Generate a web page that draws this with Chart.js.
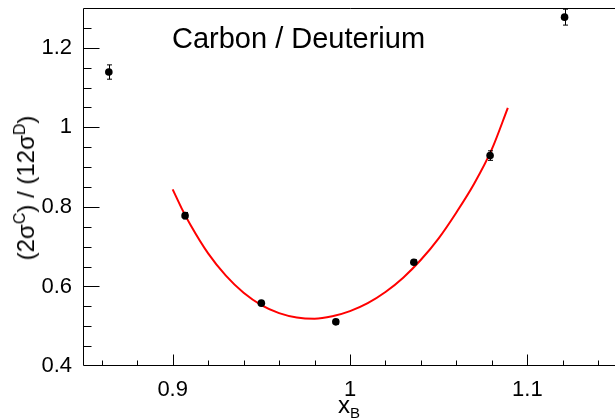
<!DOCTYPE html>
<html>
<head>
<meta charset="utf-8">
<script src="https://cdn.jsdelivr.net/npm/chart.js@4"></script>
<style>
  html, body { margin: 0; padding: 0; background: #fff; overflow: hidden; }
  #wrap { position: relative; width: 620px; height: 418px; font-family: "Liberation Sans", Arial, sans-serif; color: #000; }
  #c { position: absolute; left: 0; top: 0; }
  .txt { position: absolute; white-space: nowrap; line-height: 1; }
  #plotLabel { left: 172px; top: 24px; font-size: 29px; }
  #xTitle { left: 338px; top: 393px; font-size: 24px; }
  #xTitle sub { font-size: 15px; vertical-align: -5px; line-height: 0; }
  #yTitle { left: 26px; top: 188px; font-size: 24px; transform: translate(-50%, -50%) rotate(-90deg); }
  #yTitle sup { font-size: 16px; vertical-align: 9px; line-height: 0; }
</style>
</head>
<body>
<div id="wrap">
  <canvas id="c" width="620" height="418"></canvas>
  <div class="txt" id="plotLabel">Carbon / Deuterium</div>
  <div class="txt" id="xTitle">x<sub>B</sub></div>
  <div class="txt" id="yTitle">(2σ<sup>C</sup>) / (12σ<sup>D</sup>)</div>
</div>
<script>
/* --- DATA --- */
const xB = [0.864, 0.907, 0.950, 0.992, 1.036, 1.079, 1.121];
const ratio = [1.139, 0.778, 0.558, 0.511, 0.661, 0.929, 1.277];
const ratioErr = [0.018, 0.008, 0.006, 0.006, 0.006, 0.012, 0.020];

// fit curve
const fitX = [0.900, 0.905, 0.910, 0.920, 0.930, 0.940, 0.950, 0.960, 0.970, 0.980, 0.990,
              1.000, 1.010, 1.020, 1.030, 1.040, 1.050, 1.060, 1.070, 1.080, 1.089];
const fitY = [0.844, 0.797, 0.755, 0.683, 0.627, 0.584, 0.553, 0.533, 0.522, 0.519, 0.525,
              0.538, 0.558, 0.586, 0.622, 0.667, 0.721, 0.786, 0.858, 0.945, 1.049];

const xTicks = [0.9, 1.0, 1.1];
const xTickLabels = ['0.9', '1', '1.1'];
const yTicks = [0.4, 0.6, 0.8, 1.0, 1.2];
const yTickLabels = ['0.4', '0.6', '0.8', '1', '1.2'];
const xMinorStep = 0.02;
const yMinorStep = 0.05;

/* --- PLUGINS --- */
// ROOT style frame with ticks pointing inwards
const framePlugin = {
    id: 'frame',
    afterDatasetsDraw(chart) {
        const ctx = chart.ctx;
        const area = chart.chartArea;
        const xs = chart.scales.x;
        const ys = chart.scales.y;
        const left = Math.round(area.left) - 0.5;
        const bottom = Math.round(area.bottom) - 0.5;
        const top = Math.round(area.top) + 0.5;

        ctx.save();
        ctx.strokeStyle = '#000';
        ctx.lineWidth = 1;
        ctx.beginPath();
        ctx.moveTo(left, top);
        ctx.lineTo(area.right + 2, top);
        ctx.moveTo(left, top);
        ctx.lineTo(left, bottom);
        ctx.lineTo(area.right + 2, bottom);

        // x ticks
        for (let v = 0.86; v < xs.max; v += xMinorStep) {
            const px = Math.round(xs.getPixelForValue(v)) + 0.5;
            const major = xTicks.some(t => Math.abs(t - v) < 1e-6);
            ctx.moveTo(px, bottom);
            ctx.lineTo(px, bottom - (major ? 11 : 5));
        }
        // y ticks
        for (let v = 0.45; v < ys.max; v += yMinorStep) {
            const py = Math.round(ys.getPixelForValue(v)) + 0.5;
            const major = yTicks.some(t => Math.abs(t - v) < 1e-6);
            ctx.moveTo(left, py);
            ctx.lineTo(left + (major ? 16 : 8), py);
        }
        ctx.stroke();
        ctx.restore();
    }
};

const errorBarPlugin = {
    id: 'errorBars',
    afterDatasetsDraw(chart) {
        const ctx = chart.ctx;
        const xs = chart.scales.x;
        const ys = chart.scales.y;
        ctx.save();
        ctx.strokeStyle = '#000';
        ctx.lineWidth = 1;
        ctx.beginPath();
        xB.forEach((x, i) => {
            const px = Math.round(xs.getPixelForValue(x)) + 0.5;
            const yTop = ys.getPixelForValue(ratio[i] + ratioErr[i]);
            const yBot = ys.getPixelForValue(ratio[i] - ratioErr[i]);
            ctx.moveTo(px, yTop);
            ctx.lineTo(px, yBot);
            ctx.moveTo(px - 2.5, yTop);
            ctx.lineTo(px + 2.5, yTop);
            ctx.moveTo(px - 2.5, yBot);
            ctx.lineTo(px + 2.5, yBot);
        });
        ctx.stroke();
        ctx.restore();
    }
};

/* --- CHART --- */
const tickFont = { family: '"Liberation Sans", Arial, sans-serif', size: 22 };

new Chart(document.getElementById('c'), {
    type: 'scatter',
    data: {
        datasets: [{
            label: 'fit',
            data: fitX.map((x, i) => ({ x: x, y: fitY[i] })),
            showLine: true,
            borderColor: '#ff0000',
            borderWidth: 2,
            pointRadius: 0,
            cubicInterpolationMode: 'monotone',
            order: 2
        }, {
            label: 'ratio',
            data: xB.map((x, i) => ({ x: x, y: ratio[i] })),
            backgroundColor: '#000',
            borderColor: '#000',
            borderWidth: 0,
            pointRadius: 3.8,
            order: 1
        }]
    },
    options: {
        responsive: false,
        animation: false,
        devicePixelRatio: 1,
        layout: { padding: { top: 8, right: 4, left: 0, bottom: 0 } },
        plugins: {
            legend: { display: false },
            tooltip: { enabled: false },
            title: { display: false }
        },
        scales: {
            x: {
                type: 'linear',
                min: 0.85,
                max: 1.15,
                grid: { display: false },
                border: { display: false },
                afterBuildTicks: (s) => { s.ticks = xTicks.map(v => ({ value: v })); },
                afterFit: (s) => { s.height = 52; s.paddingLeft = 0; s.paddingRight = 0; },
                ticks: {
                    color: '#000',
                    font: tickFont,
                    padding: 3,
                    maxRotation: 0,
                    callback: (v, i) => xTickLabels[i]
                }
            },
            y: {
                type: 'linear',
                min: 0.4,
                max: 1.3,
                grid: { display: false },
                border: { display: false },
                afterBuildTicks: (s) => { s.ticks = yTicks.map(v => ({ value: v })); },
                afterFit: (s) => { s.width = 84; s.paddingTop = 0; s.paddingBottom = 0; },
                ticks: {
                    color: '#000',
                    font: tickFont,
                    padding: 4,
                    callback: (v, i) => yTickLabels[i]
                }
            }
        }
    },
    plugins: [framePlugin, errorBarPlugin]
});
</script>
</body>
</html>
